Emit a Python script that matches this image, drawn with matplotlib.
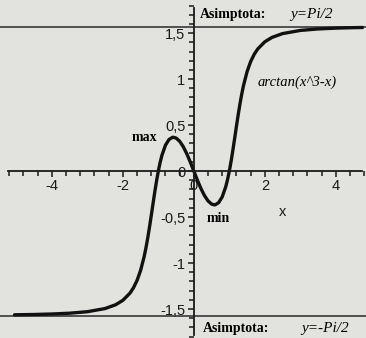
import matplotlib
matplotlib.use("Agg")
import matplotlib.pyplot as plt
from matplotlib.ticker import MultipleLocator, FixedLocator, FuncFormatter

xs = [-5.05, -4.5, -4.0, -3.5, -3.0, -2.5, -2.2, -2.0, -1.8, -1.7, -1.6, -1.5,
      -1.4, -1.35, -1.3, -1.25, -1.2, -1.15, -1.1, -1.05, -1.0, -0.95, -0.9,
      -0.8, -0.7, -0.6, -0.577, -0.5, -0.4, -0.3, -0.2, -0.1, 0.0,
      0.1, 0.2, 0.3, 0.4, 0.5, 0.577, 0.6, 0.7, 0.8, 0.9, 0.95, 1.0, 1.05,
      1.1, 1.15, 1.2, 1.25, 1.3, 1.35, 1.4, 1.5, 1.6, 1.7, 1.8, 2.0, 2.2,
      2.5, 3.0, 3.5, 4.0, 4.5, 4.75]
ys = [-1.5627, -1.5593, -1.5541, -1.5454, -1.5292, -1.4948, -1.4530, -1.4056,
      -1.3277, -1.2691, -1.1900, -1.0808, -0.9311, -0.8376, -0.7310, -0.6127,
      -0.4858, -0.3555, -0.2270, -0.1072, 0.0, 0.0923, 0.1694, 0.2805, 0.3429,
      0.3670, 0.3674, 0.3588, 0.3244, 0.2665, 0.1897, 0.0987, 0.0,
      -0.0987, -0.1897, -0.2665, -0.3244, -0.3588, -0.3674, -0.3670, -0.3429,
      -0.2805, -0.1694, -0.0923, 0.0, 0.1072, 0.2270, 0.3555, 0.4858, 0.6127,
      0.7310, 0.8376, 0.9311, 1.0808, 1.1900, 1.2691, 1.3277, 1.4056, 1.4530,
      1.4948, 1.5292, 1.5454, 1.5541, 1.5593, 1.5610]
asym = 1.5708
x_labels = [-4, -2, 0, 2, 4]
y_labels = [-1.5, -1, -0.5, 0, 0.5, 1, 1.5]

bg = "#e2e2df"
fig = plt.figure(figsize=(3.66, 3.38), dpi=100, facecolor=bg)
ax = fig.add_axes([0, 0, 1, 1], facecolor=bg)
ax.set_xlim(-5.46, 4.85)
ax.set_ylim(-1.815, 1.86)

ax.axhline(asym, color="#2a2a2a", lw=1.1)
ax.axhline(-asym, color="#2a2a2a", lw=1.1)
ax.plot(xs, ys, color="#111111", lw=2.4, solid_capstyle="round")

for s in ["top", "right"]:
    ax.spines[s].set_visible(False)
ax.spines["left"].set_position(("data", 0))
ax.spines["bottom"].set_position(("data", 0))
ax.spines["left"].set_bounds(-1.78, 1.77)
ax.spines["bottom"].set_bounds(-5.24, 4.75)
for s in ["left", "bottom"]:
    ax.spines[s].set_color("#1a1a1a")
    ax.spines[s].set_linewidth(1.3)

ax.xaxis.set_major_locator(FixedLocator(x_labels))
ax.xaxis.set_minor_locator(MultipleLocator(0.4))
ax.yaxis.set_major_locator(FixedLocator(y_labels))
ax.yaxis.set_minor_locator(MultipleLocator(0.1))
fmt = FuncFormatter(lambda v, p: ("%g" % v).replace(".", ","))
ax.xaxis.set_major_formatter(fmt)
ax.yaxis.set_major_formatter(fmt)
ax.tick_params(which="both", direction="out", color="#1a1a1a", width=1.1,
               labelsize=10.5, labelcolor="#1a1a1a")
ax.tick_params(which="major", length=4.5, pad=1.5)
ax.tick_params(which="minor", length=3.8)
for lab in ax.get_xticklabels() + ax.get_yticklabels():
    lab.set_family("Liberation Sans")

serif = "Liberation Serif"
ax.text(0.17, 1.70, "Asimptota:", family=serif, weight="bold", fontsize=10,
        va="center")
ax.text(2.72, 1.70, "y=Pi/2", family=serif, style="italic", fontsize=11,
        va="center")
ax.text(0.25, -1.71, "Asimptota:", family=serif, weight="bold", fontsize=10,
        va="center")
ax.text(3.04, -1.71, "y=-Pi/2", family=serif, style="italic", fontsize=11,
        va="center")
ax.text(1.80, 0.97, "arctan(x^3-x)", family=serif, style="italic",
        fontsize=10.5, va="center")
ax.text(-1.75, 0.37, "max", family=serif, weight="bold", fontsize=10,
        va="center")
ax.text(0.37, -0.52, "min", family=serif, weight="bold", fontsize=10,
        va="center")
ax.text(2.5, -0.45, "x", family="Liberation Sans", fontsize=10.5,
        ha="center", va="center", color="#1a1a1a")

fig.savefig("out.png", dpi=100, facecolor=bg)
